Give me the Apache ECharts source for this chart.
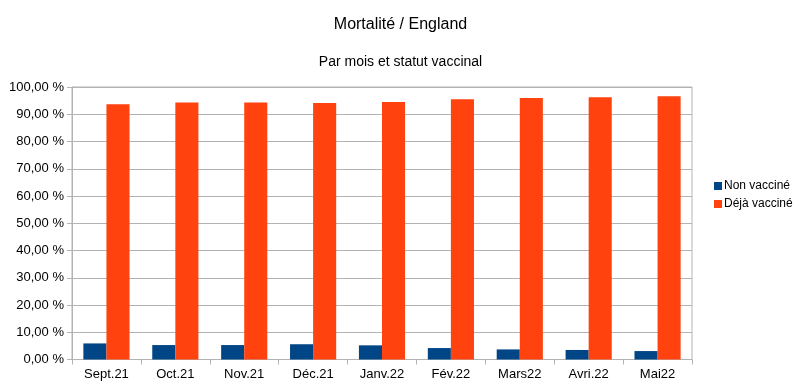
<!DOCTYPE html>
<html><head><meta charset="utf-8">
<script src="https://cdn.jsdelivr.net/npm/echarts@6/dist/echarts.min.js"></script>
<style>html,body{margin:0;padding:0;background:#fff}#c{width:801px;height:386px}</style>
</head><body><div id="c"></div>
<script>
const categories = ["Sept.21","Oct.21","Nov.21","Déc.21","Janv.22","Fév.22","Mars22","Avri.22","Mai22"];
const nonVaccine = [5.9, 5.3, 5.3, 5.6, 5.2, 4.2, 3.7, 3.5, 3.1];
const dejaVaccine = [93.7, 94.3, 94.3, 94.1, 94.5, 95.5, 96.0, 96.2, 96.6];
const seriesNames = ["Non vacciné", "Déjà vacciné"];
const titleText = "Mortalité / England";
const subtitleText = "Par mois et statut vaccinal";

const fmt = v => v.toFixed(2).replace('.', ',') + ' %';
const font = "'Liberation Sans', Arial, sans-serif";
const chart = echarts.init(document.getElementById('c'));
chart.setOption({
  animation: false,
  textStyle: {fontFamily: font},
  title: [
    {text: titleText, left: 'center', top: 12, textStyle: {fontFamily: font, fontSize: 16, fontWeight: 'normal', color: '#000'}},
    {text: subtitleText, left: 'center', top: 50, textStyle: {fontFamily: font, fontSize: 14, fontWeight: 'normal', color: '#000'}}
  ],
  legend: {
    orient: 'vertical', left: 709, top: 175, itemWidth: 8, itemHeight: 8, itemGap: 6,
    icon: 'rect',
    textStyle: {fontFamily: font, fontSize: 12, color: '#000', padding: [0,0,0,-3]},
    data: seriesNames
  },
  grid: {left: 72, right: 109, top: 87, bottom: 26.5, show: true, borderColor: '#b3b3b3', borderWidth: 1, containLabel: false},
  xAxis: {
    type: 'category', data: categories,
    axisLine: {lineStyle: {color: '#b3b3b3'}},
    axisTick: {show: true, length: 5, lineStyle: {color: '#b3b3b3'}},
    axisLabel: {fontFamily: font, fontSize: 13, color: '#000', margin: 8}
  },
  yAxis: {
    type: 'value', min: 0, max: 100, interval: 10,
    axisLine: {show: true, lineStyle: {color: '#b3b3b3'}},
    axisTick: {show: true, length: 5, lineStyle: {color: '#b3b3b3'}},
    splitLine: {lineStyle: {color: '#b3b3b3'}},
    axisLabel: {fontFamily: font, fontSize: 13, color: '#000', margin: 8, formatter: fmt}
  },
  series: [
    {name: seriesNames[0], type: 'bar', data: nonVaccine, itemStyle: {color: '#004586'}, barGap: '0%', barCategoryGap: '33%'},
    {name: seriesNames[1], type: 'bar', data: dejaVaccine, itemStyle: {color: '#ff420e'}, barGap: '0%', barCategoryGap: '33%'}
  ]
});
</script></body></html>
